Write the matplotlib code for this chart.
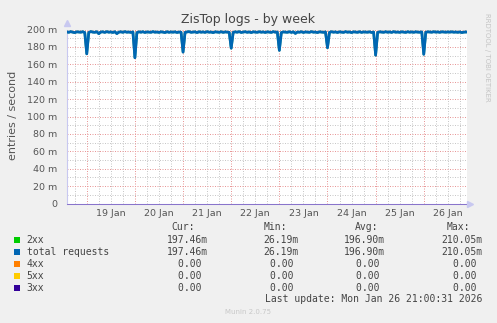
import matplotlib
matplotlib.use('Agg')
import matplotlib.pyplot as plt
from matplotlib.patches import Rectangle
import numpy as np

# hourly samples, milli-entries per second; hour 0 = 19 Jan 00:00
day18 = [197.2, 196.8, 197.5, 197.0, 196.4, 197.3, 197.1, 196.9, 197.4, 196.6]
day19 = [172.0, 196.5, 197.6, 197.0, 196.8, 197.4, 195.2, 197.1, 197.3, 196.7, 197.5, 196.9,
         197.2, 196.6, 197.4, 195.3, 197.0, 197.3, 196.8, 197.5, 196.9, 197.1, 196.7, 197.2]
day20 = [167.5, 196.4, 197.3, 196.9, 197.4, 196.6, 197.2, 197.0, 196.8, 197.5, 196.9, 197.1,
         196.7, 197.3, 197.0, 196.5, 197.4, 196.8, 197.2, 196.9, 197.3, 196.6, 197.1, 196.9]
day21 = [174.0, 196.6, 197.2, 197.5, 196.8, 197.0, 197.3, 196.5, 197.4, 196.9, 197.2, 196.7,
         197.5, 196.9, 197.1, 196.4, 197.3, 197.0, 196.8, 197.4, 196.7, 197.2, 197.0, 196.8]
day22 = [178.5, 196.7, 197.3, 196.9, 197.5, 196.6, 197.1, 197.4, 196.8, 197.2, 196.5, 197.3,
         197.0, 196.8, 197.4, 196.9, 197.2, 196.6, 197.3, 197.0, 196.7, 197.5, 196.9, 197.1]
day23 = [176.0, 196.5, 197.2, 197.0, 196.8, 197.4, 196.7, 197.3, 195.5, 197.1, 196.9, 197.4,
         196.6, 197.2, 197.0, 196.8, 197.5, 196.9, 197.1, 196.5, 197.3, 197.0, 196.8, 197.2]
day24 = [179.0, 196.8, 197.4, 196.9, 197.2, 196.6, 197.3, 197.0, 196.7, 197.5, 196.9, 197.2,
         196.5, 197.3, 197.1, 196.8, 197.4, 196.7, 197.2, 197.0, 196.9, 197.3, 196.6, 197.1]
day25 = [170.5, 196.6, 197.3, 197.0, 196.8, 197.4, 196.9, 197.2, 196.7, 197.5, 196.9, 197.1,
         196.8, 197.3, 197.0, 196.7, 197.4, 196.9, 197.2, 196.8, 197.3, 197.0, 196.9, 197.2]
day26 = [171.5, 196.8, 197.3, 197.1, 196.9, 197.4, 197.0, 197.2, 196.8, 197.3, 197.1, 196.9,
         197.2, 197.0, 197.3, 196.9, 197.1, 196.8, 197.2, 196.5, 197.0, 197.1]

hour_start = -10
day_labels = ['19 Jan', '20 Jan', '21 Jan', '22 Jan', '23 Jan', '24 Jan', '25 Jan', '26 Jan']
ytick_vals = [0, 20, 40, 60, 80, 100, 120, 140, 160, 180, 200]
ytick_labels = ['0', '20 m', '40 m', '60 m', '80 m', '100 m', '120 m', '140 m', '160 m', '180 m', '200 m']

series_names = ['2xx', 'total requests', '4xx', '5xx', '3xx']
series_colors = ['#00cc00', '#0066b3', '#ff8000', '#ffcc00', '#330099']
cur_vals = ['197.46m', '197.46m', '0.00 ', '0.00 ', '0.00 ']
min_vals = ['26.19m', '26.19m', '0.00 ', '0.00 ', '0.00 ']
avg_vals = ['196.90m', '196.90m', '0.00 ', '0.00 ', '0.00 ']
max_vals = ['210.05m', '210.05m', '0.00 ', '0.00 ', '0.00 ']

total = np.array(day18 + day19 + day20 + day21 + day22 + day23 + day24 + day25 + day26)
hours = hour_start + np.arange(len(total))
zeros = np.zeros(len(total))

W, H = 497, 323
fig = plt.figure(figsize=(W / 100, H / 100), dpi=100, facecolor='#f0f0f0')

def px(x, y):
    return x / W, 1 - y / H

left, right, top, bottom = 66.5, 466.5, 29.5, 203.5
ax = fig.add_axes([left / W, 1 - bottom / H, (right - left) / W, (bottom - top) / H])
ax.set_facecolor('white')
ax.set_xlim(-10.1, 189.3)
ax.set_ylim(0, 200)

# dotted grid, minor every 6 h / 10 m, major every day / 20 m
dot = (0, (1, 1.5))
gkw = dict(lw=0.72, ls=dot, zorder=1)
for h in range(-6, 190, 6):
    if h % 24 == 0:
        continue
    ax.axvline(h, color='#c8c8c8', **gkw)
for v in range(10, 200, 20):
    ax.axhline(v, color='#c8c8c8', **gkw)
for h in range(0, 190, 24):
    ax.axvline(h, color='#e89898', **gkw)
for v in ytick_vals[1:]:
    ax.axhline(v, color='#e89898', **gkw)

ax.plot(hours, total, color='#2a9a8a', lw=1.9, zorder=3)
ax.plot(hours, total, color=series_colors[1], lw=1.9, zorder=4)
ax.plot(hours, zeros, color=series_colors[2], lw=0.5, zorder=1.5, clip_on=False)
ax.plot(hours, zeros, color=series_colors[3], lw=0.5, zorder=1.5, clip_on=False)
ax.plot(hours, zeros, color=series_colors[4], lw=0.6, alpha=0.5, zorder=4, clip_on=False)

for s in ['top', 'right']:
    ax.spines[s].set_visible(False)
for s in ['left', 'bottom']:
    ax.spines[s].set_color('#c8c8f0')
    ax.spines[s].set_linewidth(0.8)

ax.set_yticks(ytick_vals)
ax.set_yticklabels(ytick_labels)
ax.set_xticks([12 + 24 * i for i in range(len(day_labels))])
ax.set_xticklabels(day_labels)
ax.tick_params(length=0, labelsize=6.8, labelcolor='#555555')
ax.tick_params(axis='y', pad=6.5)
ax.tick_params(axis='x', pad=4)

ax.plot([0], [1.035], marker='^', ms=4, color='#c8c8f0', transform=ax.transAxes, clip_on=False)
ax.plot([1.009], [0], marker='>', ms=4, color='#c8c8f0', transform=ax.transAxes, clip_on=False)

fig.text(*px(248, 19), 'ZisTop logs - by week', ha='center', va='center', fontsize=9, color='#444444')
fig.text(*px(13, 115), 'entries / second', ha='center', va='center', rotation=90, fontsize=8, color='#555555')
fig.text(*px(487, 57), 'RRDTOOL / TOBI OETIKER', ha='center', va='center', rotation=270, fontsize=5, color='#c4c4c4')

mono = dict(family='DejaVu Sans Mono', fontsize=7, color='#444444', va='center')
fig.text(*px(194.5, 227.5), 'Cur:', ha='right', **mono)
fig.text(*px(286.7, 227.5), 'Min:', ha='right', **mono)
fig.text(*px(378.7, 227.5), 'Avg:', ha='right', **mono)
fig.text(*px(470, 227.5), 'Max:', ha='right', **mono)
for i, name in enumerate(series_names):
    y = 240 + 12 * i
    fig.patches.append(Rectangle(px(14, y + 3), 6 / W, 6 / H, transform=fig.transFigure,
                                 facecolor=series_colors[i], edgecolor='none'))
    fig.text(*px(26.7, y), name, ha='left', **mono)
    fig.text(*px(207.5, y), cur_vals[i], ha='right', **mono)
    fig.text(*px(299, y), min_vals[i], ha='right', **mono)
    fig.text(*px(385, y), avg_vals[i], ha='right', **mono)
    fig.text(*px(482.7, y), max_vals[i], ha='right', **mono)
fig.text(*px(482.7, 299.5), 'Last update: Mon Jan 26 21:00:31 2026', ha='right', **mono)
fig.text(*px(248, 312.5), 'Munin 2.0.75', ha='center', va='center', fontsize=5, color='#c8c8c8')

fig.savefig('out.png', dpi=100, facecolor=fig.get_facecolor())
